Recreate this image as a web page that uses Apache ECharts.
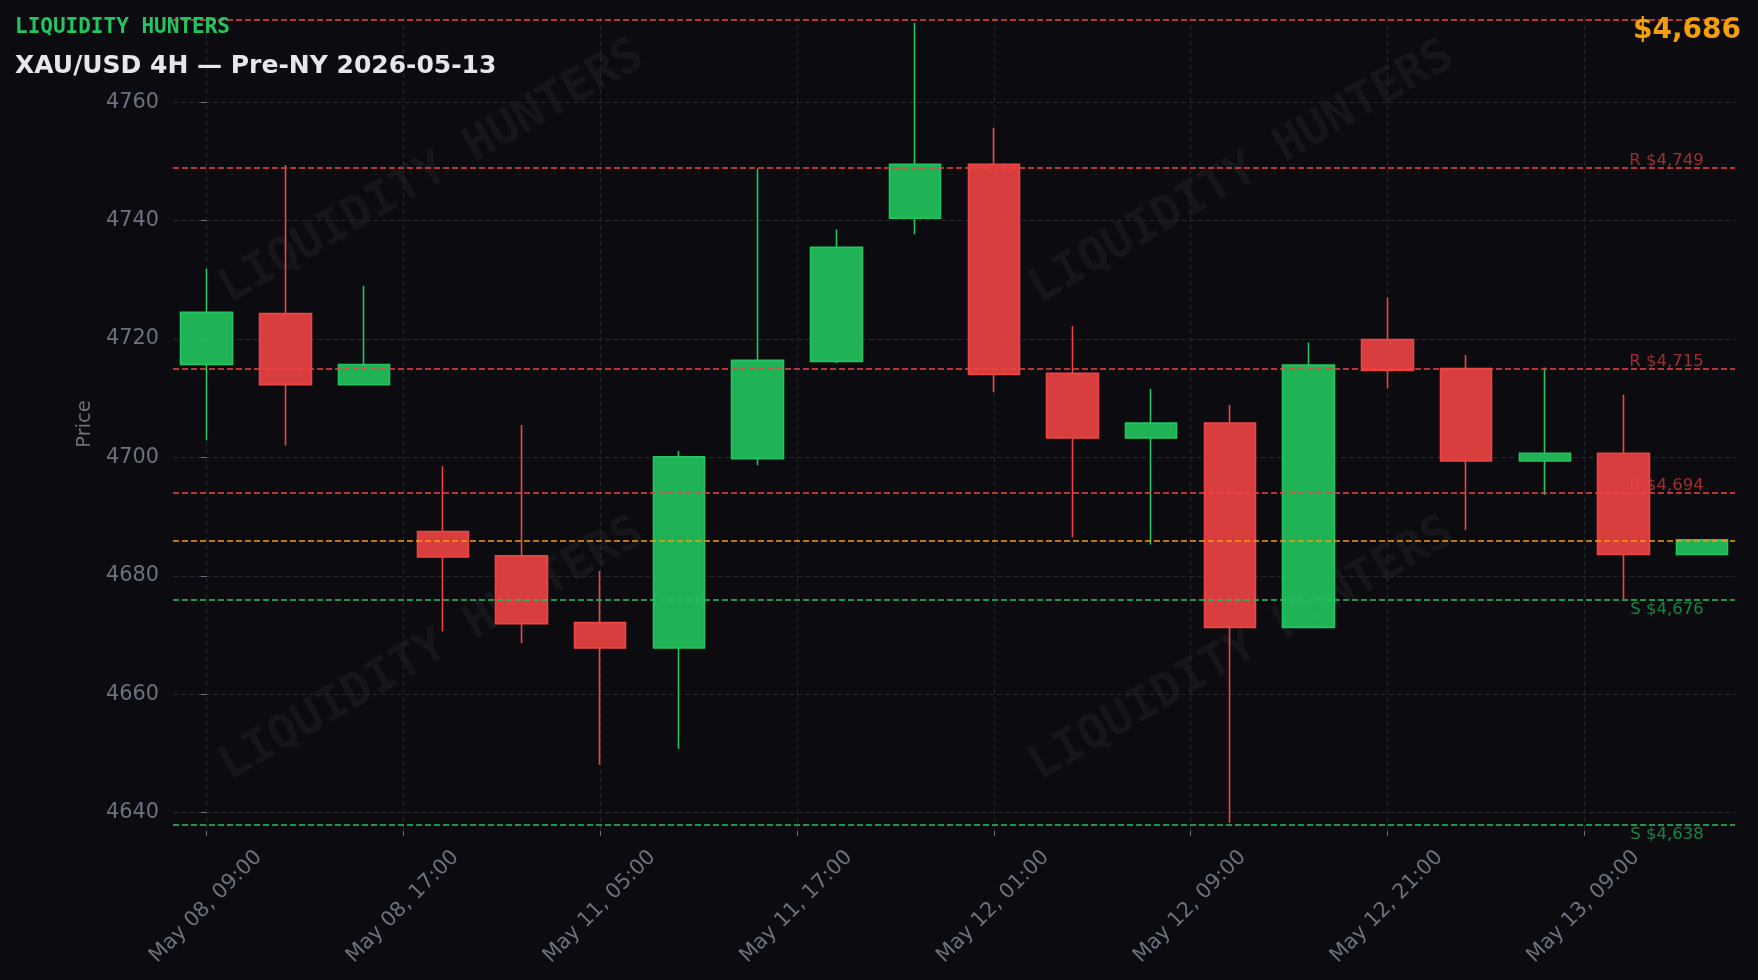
<!DOCTYPE html>
<html>
<head>
<meta charset="utf-8">
<script src="https://cdn.jsdelivr.net/npm/echarts@6/dist/echarts.min.js"></script>
<style>
html,body{margin:0;padding:0;background:#0b0b10;}
#chart{width:1758px;height:980px;}
</style>
</head>
<body>
<div id="chart"></div>
<script>
// ---- data ----
const candleTimes = ['May 08, 09:00','May 08, 13:00','May 08, 17:00','May 08, 21:00','May 11, 01:00',
  'May 11, 05:00','May 11, 09:00','May 11, 13:00','May 11, 17:00','May 11, 21:00',
  'May 12, 01:00','May 12, 05:00','May 12, 09:00','May 12, 13:00','May 12, 17:00',
  'May 12, 21:00','May 13, 01:00','May 13, 05:00','May 13, 09:00','May 13, 13:00'];
const opens  = [4715.7,4724.3,4712.3,4687.5,4683.4,4672.1,4667.8,4699.8,4716.2,4740.4,4749.5,4714.2,4703.3,4705.8,4671.3,4719.9,4715.0,4699.4,4700.7,4683.6];
const closes = [4724.5,4712.3,4715.7,4683.2,4671.9,4667.8,4700.1,4716.4,4735.5,4749.5,4714.0,4703.3,4705.8,4671.3,4715.6,4714.7,4699.4,4700.7,4683.6,4686.1];
const lows   = [4702.9,4702.0,4712.2,4670.6,4668.6,4648.1,4650.8,4698.7,4715.9,4737.7,4711.0,4686.5,4685.3,4638.3,4671.3,4711.7,4687.7,4693.7,4676.1,4683.6];
const highs  = [4731.9,4749.4,4729.0,4698.5,4705.5,4680.8,4701.1,4748.8,4738.5,4773.4,4755.7,4722.2,4711.6,4708.9,4719.4,4727.0,4717.3,4715.2,4710.6,4686.1];
const tickPositions = [0, 2.5, 5, 7.5, 10, 12.5, 15, 17.5];
const tickLabels = ['May 08, 09:00','May 08, 17:00','May 11, 05:00','May 11, 17:00','May 12, 01:00','May 12, 09:00','May 12, 21:00','May 13, 09:00'];
const priceTicks = [4640, 4660, 4680, 4700, 4720, 4740, 4760];
const resistanceLabeled = [4749, 4715, 4694];
const resistanceUnlabeled = [4774];
const supportLevels = [4676, 4638];
const currentPrice = 4686;
const brand = 'LIQUIDITY HUNTERS';
const titleText = 'XAU/USD 4H — Pre-NY 2026-05-13';

// ---- chart ----
const RED = '#ef4444', GREEN = '#22c55e', ORANGE = '#f59e0b', GRAY = '#6b7280';
const fmt = v => '$' + v.toLocaleString('en-US');
const labelShift = 0.662;
const candleData = opens.map((o, i) => [i, o, closes[i], lows[i], highs[i]]);

const chart = echarts.init(document.getElementById('chart'), null, {renderer: 'canvas'});

const levelLines = []
  .concat(resistanceUnlabeled.concat(resistanceLabeled).map(v => ({yAxis: v, lineStyle: {color: RED}})))
  .concat([{yAxis: currentPrice, lineStyle: {color: ORANGE}}])
  .concat(supportLevels.map(v => ({yAxis: v, lineStyle: {color: GREEN}})));

const wm = (x, y) => ({
  type: 'text', x: x, y: y, rotation: Math.PI / 6, z: -10, silent: true,
  style: {text: brand, fill: 'rgba(255,255,255,0.045)', font: 'bold 47px "DejaVu Sans Mono"',
          align: 'center', verticalAlign: 'middle'}
});

chart.setOption({
  backgroundColor: '#0b0b10',
  animation: false,
  title: [
    {text: brand, left: 15, top: 17.5, padding: 0,
     textStyle: {fontFamily: 'DejaVu Sans Mono', fontWeight: 'bold', fontSize: 21, color: GREEN}},
    {text: titleText, left: 15, top: 53.5, padding: 0,
     textStyle: {fontFamily: 'DejaVu Sans', fontWeight: 'bold', fontSize: 25, color: '#e5e7eb'}},
    {text: fmt(currentPrice), right: 17, top: 16.5, padding: 0,
     textStyle: {fontFamily: 'DejaVu Sans', fontWeight: 'bold', fontSize: 28, color: ORANGE}}
  ],
  graphic: [wm(432, 173), wm(1242, 173), wm(432, 650), wm(1242, 650)],
  grid: {left: 173, right: 23, top: 17, bottom: 149, containLabel: false, outerBoundsMode: 'none'},
  xAxis: {
    type: 'value', min: -0.428, max: 19.417,
    axisLine: {show: false},
    axisTick: {show: true, length: 5, customValues: tickPositions, lineStyle: {color: GRAY, width: 1}},
    splitLine: {show: true, lineStyle: {color: '#24262f', width: 1, type: [5, 3]}},
    axisLabel: {
      customValues: tickPositions.map(p => p + labelShift),
      rotate: 45, margin: 23, color: GRAY, fontFamily: 'DejaVu Sans', fontSize: 20.8,
      formatter: function (v) {
        let best = 0;
        tickPositions.forEach((p, i) => { if (Math.abs(p + labelShift - v) < Math.abs(tickPositions[best] + labelShift - v)) best = i; });
        return tickLabels[best];
      }
    }
  },
  yAxis: {
    type: 'value', min: 4636.9, max: 4774.4, scale: true,
    name: 'Price', nameLocation: 'middle', nameGap: 58,
    nameTextStyle: {color: GRAY, fontFamily: 'DejaVu Sans', fontSize: 19.5},
    axisLine: {show: false},
    axisTick: {show: true, length: 6, customValues: priceTicks, lineStyle: {color: GRAY}},
    axisLabel: {customValues: priceTicks, margin: 14, color: GRAY, fontFamily: 'DejaVu Sans', fontSize: 20.8,
                formatter: v => String(Math.round(v))},
    splitLine: {show: true, lineStyle: {color: '#24262f', width: 1, type: [5, 3]}}
  },
  series: [
    {
      type: 'candlestick',
      data: candleData,
      barWidth: 52,
      z: 3,
      itemStyle: {
        color: 'rgba(34,197,94,0.9)', color0: 'rgba(239,68,68,0.9)',
        borderColor: GREEN, borderColor0: RED, borderWidth: 1.6
      },
      markLine: {
        silent: true, symbol: 'none', animation: false, z: 4,
        label: {show: false},
        lineStyle: {width: 1.6, type: [6, 3], opacity: 1},
        data: levelLines
      }
    },
    {
      type: 'scatter', symbol: 'rect', symbolSize: 1, silent: true, z: 5,
      itemStyle: {color: 'transparent'},
      data: resistanceLabeled.map(v => [19, v]),
      label: {show: true, position: [0, 0], align: 'right', verticalAlign: 'bottom', offset: [2, 2],
              formatter: p => 'R ' + fmt(p.value[1]),
              color: 'rgba(239,68,68,0.8)', fontFamily: 'DejaVu Sans', fontSize: 16.5}
    },
    {
      type: 'scatter', symbol: 'rect', symbolSize: 1, silent: true, z: 5,
      itemStyle: {color: 'transparent'},
      data: supportLevels.map(v => [19, v]),
      label: {show: true, position: [0, 0], align: 'right', verticalAlign: 'top', offset: [2, 2],
              formatter: p => 'S ' + fmt(p.value[1]),
              color: 'rgba(34,197,94,0.8)', fontFamily: 'DejaVu Sans', fontSize: 16.5}
    }
  ]
});
</script>
</body>
</html>
